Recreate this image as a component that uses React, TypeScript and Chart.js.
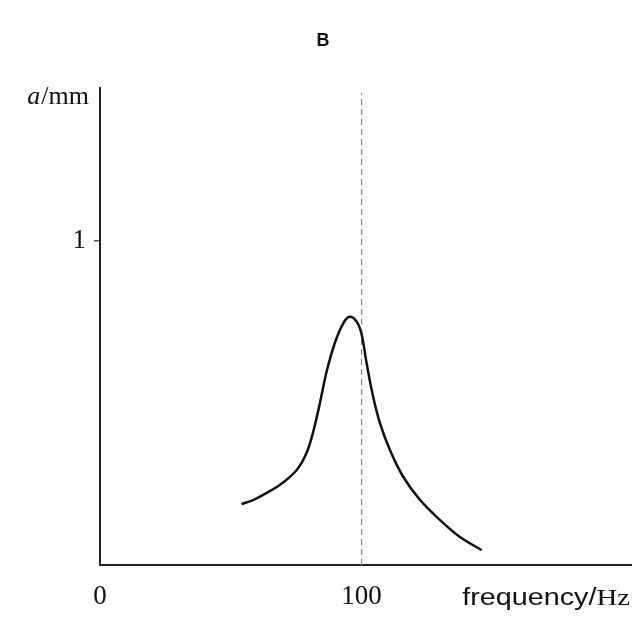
import React, { useEffect, useRef } from 'react';
import { Chart, registerables } from 'chart.js';

Chart.register(...registerables);

// ---- Text ----
const TITLE = 'B';
const X_LABEL_MAIN = 'frequency/';
const X_LABEL_UNIT = 'Hz';
const Y_LABEL_ITALIC = 'a';
const Y_LABEL_REST = '/mm';

// ---- Axes ----
const X_MIN = 0;
const X_MAX = 203;
const Y_MIN = 0;
const Y_MAX = 1.47;
const X_TICKS = [0, 100];
const Y_TICKS = [1];
const RESONANCE_FREQ = 100;
const RESONANCE_LINE_TOP = 1.455;

// ---- Resonance curve ----
const freq = [54.1, 58.5, 62.4, 68.8, 75.2, 79.0, 81.5, 84.1, 86.6, 89.8, 93.0, 95.5, 98.1, 100.0, 101.9, 104.4, 107.0, 110.8, 115.9, 122.3, 129.9, 137.6, 145.9];
const amp = [0.188, 0.200, 0.216, 0.247, 0.293, 0.346, 0.410, 0.500, 0.595, 0.685, 0.745, 0.765, 0.750, 0.712, 0.623, 0.519, 0.438, 0.355, 0.272, 0.201, 0.139, 0.086, 0.046];

const SERIF = '"Liberation Serif", "DejaVu Serif", serif';
const SANS = '"Liberation Sans", Arial, sans-serif';

const labelsPlugin = {
  id: 'labelsPlugin',
  afterDraw(chart: any) {
    const { ctx, chartArea } = chart;
    ctx.save();
    ctx.fillStyle = '#111';
    // Title
    ctx.font = `bold 18px ${SANS}`;
    ctx.textAlign = 'center';
    ctx.textBaseline = 'middle';
    ctx.fillText(TITLE, 323, 41);
    // Y label a/mm, right aligned near top of y-axis
    ctx.textBaseline = 'middle';
    ctx.textAlign = 'left';
    ctx.font = `26px ${SERIF}`;
    const restW = ctx.measureText(Y_LABEL_REST).width;
    ctx.font = `italic 26px ${SERIF}`;
    const aW = ctx.measureText(Y_LABEL_ITALIC).width;
    const right = chartArea.left - 11;
    const yMid = 97;
    ctx.fillText(Y_LABEL_ITALIC, right - restW - aW - 1, yMid);
    ctx.font = `26px ${SERIF}`;
    ctx.fillText(Y_LABEL_REST, right - restW, yMid);
    // X label: "frequency/" sans + "Hz" serif, slightly stretched horizontally
    ctx.textBaseline = 'alphabetic';
    ctx.textAlign = 'left';
    ctx.font = `23px ${SANS}`;
    const mainW = ctx.measureText(X_LABEL_MAIN).width;
    ctx.font = `23px ${SERIF}`;
    const unitW = ctx.measureText(X_LABEL_UNIT).width;
    const stretch = 1.25;
    const xRight = chartArea.right - 1;
    const x0 = xRight - (mainW + unitW) * stretch;
    ctx.translate(x0, 605);
    ctx.scale(stretch, 1);
    ctx.font = `23px ${SANS}`;
    ctx.fillText(X_LABEL_MAIN, 0, 0);
    ctx.font = `23px ${SERIF}`;
    ctx.fillText(X_LABEL_UNIT, mainW, 0);
    ctx.restore();
  },
};

export default function App() {
  const ref = useRef<HTMLCanvasElement | null>(null);
  useEffect(() => {
    if (!ref.current) return;
    const chart = new Chart(ref.current, {
      type: 'line',
      data: {
        datasets: [
          {
            data: freq.map((f, i) => ({ x: f, y: amp[i] })),
            borderColor: '#111',
            borderWidth: 2.5,
            pointRadius: 0,
            tension: 0.35,
            fill: false,
          },
          {
            data: [
              { x: RESONANCE_FREQ, y: Y_MIN },
              { x: RESONANCE_FREQ, y: RESONANCE_LINE_TOP },
            ],
            borderColor: '#8a8a8a',
            borderWidth: 1.2,
            borderDash: [6, 4],
            pointRadius: 0,
            fill: false,
          },
        ],
      },
      options: {
        responsive: false,
        animation: false,
        layout: { padding: { top: 88, right: 13, left: 0, bottom: 0 } },
        plugins: {
          legend: { display: false },
          title: { display: false },
          tooltip: { enabled: false },
        },
        scales: {
          x: {
            type: 'linear',
            min: X_MIN,
            max: X_MAX,
            afterBuildTicks: (s: any) => {
              s.ticks = X_TICKS.map((v) => ({ value: v }));
            },
            afterFit: (s: any) => {
              s.height = 52;
            },
            grid: { display: false, drawTicks: false },
            border: { display: true, color: '#222', width: 2 },
            ticks: {
              color: '#111',
              font: { family: SERIF, size: 27 },
              padding: 16,
              maxRotation: 0,
              autoSkip: false,
              callback: (v: any) => String(v),
            },
          },
          y: {
            type: 'linear',
            min: Y_MIN,
            max: Y_MAX,
            afterBuildTicks: (s: any) => {
              s.ticks = Y_TICKS.map((v) => ({ value: v }));
            },
            afterFit: (s: any) => {
              s.width = 100;
            },
            grid: { drawOnChartArea: false, drawTicks: true, tickLength: 6, color: '#555', lineWidth: 1.5 },
            border: { display: true, color: '#222', width: 2 },
            ticks: {
              color: '#111',
              font: { family: SERIF, size: 27 },
              padding: 8,
              autoSkip: false,
              callback: (v: any) => String(v),
            },
          },
        },
      },
      plugins: [labelsPlugin],
    } as any);
    return () => chart.destroy();
  }, []);
  return (
    <div style={{ position: 'absolute', left: 0, top: 0, width: 644, height: 617, background: '#fff' }}>
      <canvas ref={ref} width={644} height={617} style={{ display: 'block' }} />
    </div>
  );
}
